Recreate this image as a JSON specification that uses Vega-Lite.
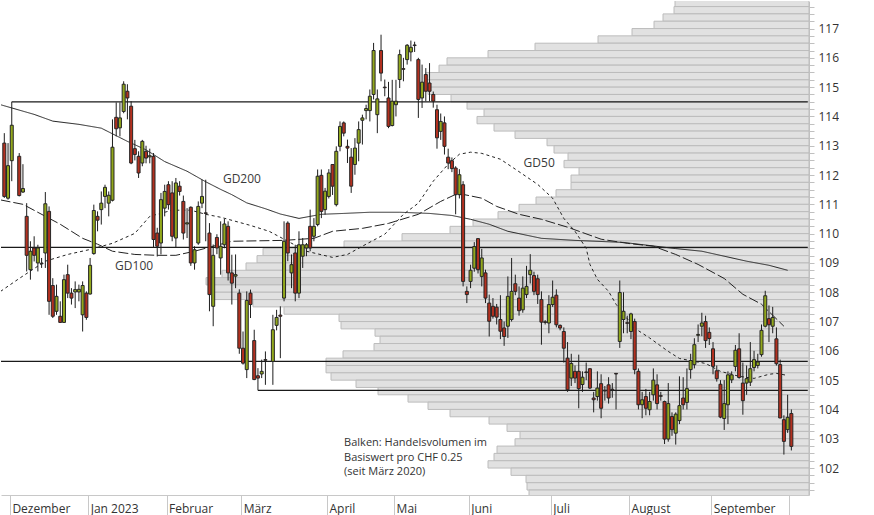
{
  "$schema": "https://vega.github.io/schema/vega-lite/v6.json",
  "width": 808,
  "height": 494,
  "padding": 0,
  "autosize": {"type": "pad"},
  "background": "white",
  "config": {
    "view": {"stroke": null},
    "font": "Open Sans",
    "scale": {"continuousPadding": 0},
    "axisX": {"title": null, "grid": false, "tickSize": 21, "tickColor": "#c8c8c8", "domainColor": "#c8c8c8", "labelAlign": "left", "labelBaseline": "middle", "labelOffset": 2, "labelPadding": -8, "labelFont": "Open Sans", "labelFontSize": 12, "labelColor": "#333333", "labelOverlap": false, "labelFlush": false, "labelBound": false},
    "axisY": {"title": null, "grid": false, "tickSize": 5, "tickColor": "#c0c0c0", "domainColor": "#c0c0c0", "labelPadding": 4, "labelFont": "Open Sans", "labelFontSize": 12, "labelColor": "#333333", "labelOverlap": false, "labelBound": false, "labelFlush": false}
  },
  "datasets": {
    "vol": [
      {"lo":117.75,"hi":118,"vol":134},{"lo":117.5,"hi":117.75,"vol":135},{"lo":117.25,"hi":117.5,"vol":146},{"lo":117,"hi":117.25,"vol":155},
      {"lo":116.75,"hi":117,"vol":177},{"lo":116.5,"hi":116.75,"vol":211},{"lo":116.25,"hi":116.5,"vol":274},{"lo":116,"hi":116.25,"vol":321},
      {"lo":115.75,"hi":116,"vol":362},{"lo":115.5,"hi":115.75,"vol":370},{"lo":115.25,"hi":115.5,"vol":383},{"lo":115,"hi":115.25,"vol":383},
      {"lo":114.75,"hi":115,"vol":381},{"lo":114.5,"hi":114.75,"vol":358},{"lo":114.25,"hi":114.5,"vol":342},{"lo":114,"hi":114.25,"vol":325},
      {"lo":113.75,"hi":114,"vol":332},{"lo":113.5,"hi":113.75,"vol":315},{"lo":113.25,"hi":113.5,"vol":294},{"lo":113,"hi":113.25,"vol":262},
      {"lo":112.75,"hi":113,"vol":255},{"lo":112.5,"hi":112.75,"vol":241},{"lo":112.25,"hi":112.5,"vol":245},{"lo":112,"hi":112.25,"vol":230},
      {"lo":111.75,"hi":112,"vol":238},{"lo":111.5,"hi":111.75,"vol":238},{"lo":111.25,"hi":111.5,"vol":253},{"lo":111,"hi":111.25,"vol":273},
      {"lo":110.75,"hi":111,"vol":290},{"lo":110.5,"hi":110.75,"vol":311},{"lo":110.25,"hi":110.5,"vol":336},{"lo":110,"hi":110.25,"vol":359},
      {"lo":109.75,"hi":110,"vol":407},{"lo":109.5,"hi":109.75,"vol":465},{"lo":109.25,"hi":109.5,"vol":546},{"lo":109,"hi":109.25,"vol":552},
      {"lo":108.75,"hi":109,"vol":563},{"lo":108.5,"hi":108.75,"vol":587},{"lo":108.25,"hi":108.5,"vol":603},{"lo":108,"hi":108.25,"vol":595},
      {"lo":107.75,"hi":108,"vol":595},{"lo":107.5,"hi":107.75,"vol":556},{"lo":107.25,"hi":107.5,"vol":525},{"lo":107,"hi":107.25,"vol":470},
      {"lo":106.75,"hi":107,"vol":468},{"lo":106.5,"hi":106.75,"vol":434},{"lo":106.25,"hi":106.5,"vol":429},{"lo":106,"hi":106.25,"vol":435},
      {"lo":105.75,"hi":106,"vol":466},{"lo":105.5,"hi":105.75,"vol":483},{"lo":105.25,"hi":105.5,"vol":483},{"lo":105,"hi":105.25,"vol":478},
      {"lo":104.75,"hi":105,"vol":453},{"lo":104.5,"hi":104.75,"vol":431},{"lo":104.25,"hi":104.5,"vol":401},{"lo":104,"hi":104.25,"vol":381},
      {"lo":103.75,"hi":104,"vol":359},{"lo":103.5,"hi":103.75,"vol":320},{"lo":103.25,"hi":103.5,"vol":302},{"lo":103,"hi":103.25,"vol":289},
      {"lo":102.75,"hi":103,"vol":294},{"lo":102.5,"hi":102.75,"vol":312},{"lo":102.25,"hi":102.5,"vol":315},{"lo":102,"hi":102.25,"vol":321},
      {"lo":101.75,"hi":102,"vol":298},{"lo":101.5,"hi":101.75,"vol":283},{"lo":101.25,"hi":101.5,"vol":282},{"lo":101,"hi":101.25,"vol":280}
    ],
    "lvl": [
      {"level":114.5,"from":2,"to":215.4},
      {"level":109.53,"from":-0.885,"to":215.4},
      {"level":105.64,"from":-0.885,"to":215.4},
      {"level":104.65,"from":68,"to":215.4}
    ],
    "ma": [
      {"ma":"GD200","i":-1,"v":114.4},{"ma":"GD200","i":8,"v":114.07},{"ma":"GD200","i":13,"v":113.84},{"ma":"GD200","i":20,"v":113.73},{"ma":"GD200","i":26,"v":113.6},{"ma":"GD200","i":33,"v":113.15},{"ma":"GD200","i":38,"v":112.86},{"ma":"GD200","i":43,"v":112.46},{"ma":"GD200","i":49,"v":112.13},{"ma":"GD200","i":54,"v":111.77},{"ma":"GD200","i":58,"v":111.51},{"ma":"GD200","i":61,"v":111.33},{"ma":"GD200","i":65,"v":111.05},{"ma":"GD200","i":70,"v":110.85},{"ma":"GD200","i":74,"v":110.67},{"ma":"GD200","i":79,"v":110.52},{"ma":"GD200","i":85,"v":110.66},{"ma":"GD200","i":91,"v":110.69},{"ma":"GD200","i":98,"v":110.73},{"ma":"GD200","i":106,"v":110.73},{"ma":"GD200","i":114,"v":110.69},{"ma":"GD200","i":120,"v":110.62},{"ma":"GD200","i":125,"v":110.49},{"ma":"GD200","i":130,"v":110.32},{"ma":"GD200","i":135,"v":110.08},{"ma":"GD200","i":144,"v":109.84},{"ma":"GD200","i":153,"v":109.77},{"ma":"GD200","i":166,"v":109.7},{"ma":"GD200","i":180,"v":109.49},{"ma":"GD200","i":187,"v":109.4},{"ma":"GD200","i":199,"v":109.06},{"ma":"GD200","i":205,"v":108.92},{"ma":"GD200","i":210,"v":108.75},
      {"ma":"GD100","i":-1,"v":111.15},{"ma":"GD100","i":5,"v":111.0},{"ma":"GD100","i":15,"v":110.32},{"ma":"GD100","i":21,"v":109.84},{"ma":"GD100","i":25,"v":109.64},{"ma":"GD100","i":29,"v":109.4},{"ma":"GD100","i":35,"v":109.29},{"ma":"GD100","i":41,"v":109.26},{"ma":"GD100","i":46,"v":109.26},{"ma":"GD100","i":51,"v":109.4},{"ma":"GD100","i":61,"v":109.74},{"ma":"GD100","i":75,"v":109.77},{"ma":"GD100","i":83,"v":109.84},{"ma":"GD100","i":88,"v":110.08},{"ma":"GD100","i":96,"v":110.18},{"ma":"GD100","i":103,"v":110.35},{"ma":"GD100","i":111,"v":110.66},{"ma":"GD100","i":117,"v":111.1},{"ma":"GD100","i":121,"v":111.34},{"ma":"GD100","i":123,"v":111.34},{"ma":"GD100","i":128,"v":111.21},{"ma":"GD100","i":132,"v":110.93},{"ma":"GD100","i":138,"v":110.66},{"ma":"GD100","i":144,"v":110.49},{"ma":"GD100","i":151,"v":110.22},{"ma":"GD100","i":160,"v":109.81},{"ma":"GD100","i":167,"v":109.67},{"ma":"GD100","i":174,"v":109.57},{"ma":"GD100","i":180,"v":109.29},{"ma":"GD100","i":186,"v":108.95},{"ma":"GD100","i":193,"v":108.47},{"ma":"GD100","i":198,"v":107.93},{"ma":"GD100","i":203,"v":107.59},{"ma":"GD100","i":209,"v":106.84},
      {"ma":"GD50","i":-1,"v":108.03},{"ma":"GD50","i":4,"v":108.47},{"ma":"GD50","i":11,"v":109.06},{"ma":"GD50","i":17,"v":109.29},{"ma":"GD50","i":23,"v":109.46},{"ma":"GD50","i":29,"v":109.67},{"ma":"GD50","i":35,"v":110.01},{"ma":"GD50","i":39,"v":110.59},{"ma":"GD50","i":45,"v":110.8},{"ma":"GD50","i":50,"v":110.8},{"ma":"GD50","i":54,"v":110.66},{"ma":"GD50","i":58,"v":110.56},{"ma":"GD50","i":66,"v":110.28},{"ma":"GD50","i":71,"v":110.08},{"ma":"GD50","i":75,"v":109.81},{"ma":"GD50","i":81,"v":109.4},{"ma":"GD50","i":88,"v":109.19},{"ma":"GD50","i":92,"v":109.29},{"ma":"GD50","i":97,"v":109.64},{"ma":"GD50","i":102,"v":109.98},{"ma":"GD50","i":107,"v":110.66},{"ma":"GD50","i":111,"v":111.04},{"ma":"GD50","i":115,"v":111.79},{"ma":"GD50","i":119,"v":112.37},{"ma":"GD50","i":122,"v":112.71},{"ma":"GD50","i":125,"v":112.78},{"ma":"GD50","i":128,"v":112.74},{"ma":"GD50","i":133,"v":112.54},{"ma":"GD50","i":137,"v":112.2},{"ma":"GD50","i":143,"v":111.68},{"ma":"GD50","i":147,"v":111.21},{"ma":"GD50","i":150,"v":110.52},{"ma":"GD50","i":153,"v":110.08},{"ma":"GD50","i":156,"v":109.5},{"ma":"GD50","i":157,"v":108.95},{"ma":"GD50","i":159,"v":108.44},{"ma":"GD50","i":162,"v":108.03},{"ma":"GD50","i":164,"v":107.59},{"ma":"GD50","i":169,"v":106.77},{"ma":"GD50","i":173,"v":106.44},{"ma":"GD50","i":178,"v":105.98},{"ma":"GD50","i":181,"v":105.74},{"ma":"GD50","i":185,"v":105.64},{"ma":"GD50","i":188,"v":105.57},{"ma":"GD50","i":192,"v":105.3},{"ma":"GD50","i":197,"v":105.13},{"ma":"GD50","i":201,"v":105.06},{"ma":"GD50","i":205,"v":105.2},{"ma":"GD50","i":207,"v":105.23},{"ma":"GD50","i":210,"v":105.16}
    ],
    "candles": [
      {"i":0,"o":113.09,"h":113.43,"l":111.22,"c":111.27},{"i":1,"o":111.21,"h":113.09,"l":111.16,"c":112.32},{"i":2,"o":112.49,"h":114.5,"l":111.79,"c":113.7},
      {"i":4,"o":112.64,"h":112.75,"l":111.27,"c":111.3},{"i":5,"o":111.42,"h":112.37,"l":111.39,"c":111.54},{"i":6,"o":110.59,"h":111.04,"l":108.71,"c":109.26},
      {"i":7,"o":108.77,"h":109.74,"l":108.43,"c":109.4},{"i":8,"o":109.51,"h":109.91,"l":109.05,"c":109.26},{"i":9,"o":109.0,"h":109.62,"l":108.71,"c":109.51},
      {"i":10,"o":108.99,"h":109.17,"l":108.83,"c":108.97},{"i":11,"o":109.34,"h":111.42,"l":108.83,"c":111.02},{"i":12,"o":110.76,"h":110.93,"l":107.23,"c":107.69},
      {"i":13,"o":108.23,"h":108.48,"l":107.12,"c":107.18},{"i":14,"o":107.35,"h":108.26,"l":107.23,"c":107.86},{"i":15,"o":107.18,"h":107.69,"l":106.95,"c":106.97},
      {"i":16,"o":106.97,"h":108.6,"l":106.95,"c":108.43},{"i":17,"o":108.6,"h":108.94,"l":107.8,"c":107.97},{"i":18,"o":107.97,"h":108.14,"l":107.58,"c":107.8},
      {"i":19,"o":108.01,"h":108.37,"l":107.46,"c":108.09},{"i":20,"o":108.01,"h":108.26,"l":107.69,"c":108.1},{"i":21,"o":107.23,"h":108.37,"l":106.66,"c":108.23},
      {"i":22,"o":107.97,"h":108.03,"l":107.06,"c":107.14},{"i":23,"o":107.94,"h":109.17,"l":107.92,"c":108.92},{"i":24,"o":109.32,"h":110.99,"l":109.28,"c":110.79},
      {"i":25,"o":110.59,"h":110.76,"l":110.08,"c":110.46},{"i":26,"o":110.82,"h":111.44,"l":110.31,"c":111.04},{"i":27,"o":111.27,"h":111.67,"l":110.87,"c":111.58},
      {"i":28,"o":111.04,"h":111.44,"l":110.59,"c":111.31},{"i":29,"o":111.14,"h":113.9,"l":111.1,"c":112.95},{"i":30,"o":113.97,"h":114.48,"l":113.32,"c":113.58},
      {"i":31,"o":113.61,"h":114.48,"l":113.32,"c":113.95},{"i":32,"o":114.17,"h":115.2,"l":114.11,"c":115.1},{"i":33,"o":114.86,"h":115.1,"l":113.9,"c":114.63},
      {"i":34,"o":114.35,"h":114.52,"l":112.37,"c":112.41},{"i":35,"o":112.9,"h":113.2,"l":112.5,"c":112.7},{"i":36,"o":112.64,"h":112.81,"l":111.9,"c":112.07},
      {"i":37,"o":112.41,"h":113.2,"l":112.3,"c":113.15},{"i":38,"o":112.81,"h":113.0,"l":112.4,"c":112.58},{"i":39,"o":112.62,"h":112.9,"l":112.4,"c":112.66},
      {"i":40,"o":112.64,"h":112.75,"l":109.51,"c":109.8},{"i":41,"o":110.02,"h":110.2,"l":109.22,"c":109.57},{"i":42,"o":109.68,"h":111.39,"l":109.29,"c":111.16},
      {"i":43,"o":110.87,"h":111.67,"l":110.59,"c":111.44},{"i":44,"o":111.67,"h":111.79,"l":110.82,"c":110.99},{"i":45,"o":111.39,"h":111.79,"l":109.74,"c":109.91},
      {"i":46,"o":109.85,"h":111.9,"l":109.51,"c":111.73},{"i":47,"o":111.62,"h":111.79,"l":111.3,"c":111.44},{"i":48,"o":111.1,"h":111.3,"l":109.8,"c":110.02},
      {"i":49,"o":110.33,"h":110.87,"l":109.85,"c":110.37},{"i":50,"o":110.9,"h":110.93,"l":108.9,"c":109.0},{"i":51,"o":109.0,"h":109.57,"l":108.77,"c":109.45},
      {"i":52,"o":109.68,"h":111.1,"l":109.62,"c":110.93},{"i":53,"o":111.04,"h":111.84,"l":110.87,"c":111.27},{"i":54,"o":110.71,"h":111.84,"l":109.74,"c":110.69},
      {"i":55,"o":110.02,"h":110.36,"l":107.35,"c":107.92},{"i":56,"o":107.52,"h":109.63,"l":106.84,"c":109.26},{"i":57,"o":109.87,"h":109.98,"l":109.3,"c":109.51},
      {"i":58,"o":109.17,"h":110.42,"l":108.6,"c":109.57},{"i":59,"o":109.62,"h":110.5,"l":109.5,"c":110.33},{"i":60,"o":110.25,"h":110.42,"l":108.4,"c":108.66},
      {"i":61,"o":108.66,"h":109.28,"l":107.58,"c":108.31},{"i":62,"o":108.55,"h":109.29,"l":108.14,"c":108.6},{"i":63,"o":107.97,"h":108.1,"l":105.9,"c":106.09},
      {"i":64,"o":106.09,"h":106.66,"l":105.53,"c":105.58},{"i":65,"o":105.36,"h":108.03,"l":105.07,"c":107.72},{"i":66,"o":107.97,"h":108.09,"l":107.12,"c":107.58},
      {"i":67,"o":106.35,"h":106.72,"l":105.0,"c":105.02},{"i":68,"o":105.15,"h":105.41,"l":104.65,"c":105.07},{"i":69,"o":105.21,"h":105.7,"l":105.07,"c":105.3},
      {"i":70,"o":105.7,"h":105.98,"l":104.84,"c":105.68},{"i":72,"o":105.64,"h":107.23,"l":104.84,"c":106.72},{"i":73,"o":106.87,"h":107.4,"l":106.7,"c":107.14},
      {"i":74,"o":107.22,"h":107.52,"l":105.75,"c":107.18},{"i":75,"o":107.8,"h":110.42,"l":107.69,"c":109.74},{"i":76,"o":110.36,"h":110.42,"l":109.06,"c":109.34},
      {"i":77,"o":108.66,"h":109.29,"l":108.14,"c":108.94},{"i":78,"o":109.34,"h":109.62,"l":107.69,"c":107.97},{"i":79,"o":107.97,"h":110.08,"l":107.8,"c":109.62},
      {"i":80,"o":109.23,"h":109.85,"l":108.83,"c":109.62},{"i":81,"o":109.51,"h":109.68,"l":109.23,"c":109.62},{"i":82,"o":110.25,"h":110.82,"l":109.4,"c":109.51},
      {"i":83,"o":109.91,"h":110.53,"l":109.74,"c":110.25},{"i":84,"o":110.31,"h":112.19,"l":110.25,"c":111.96},{"i":85,"o":111.99,"h":112.19,"l":110.53,"c":110.76},
      {"i":86,"o":110.82,"h":111.56,"l":110.65,"c":111.45},{"i":87,"o":111.27,"h":112.2,"l":111.2,"c":112.07},{"i":88,"o":112.36,"h":112.36,"l":111.32,"c":111.62},
      {"i":89,"o":110.99,"h":112.98,"l":110.93,"c":112.81},{"i":90,"o":112.98,"h":113.83,"l":112.81,"c":113.66},{"i":91,"o":113.78,"h":113.83,"l":113.32,"c":113.43},
      {"i":92,"o":112.98,"h":113.21,"l":112.41,"c":112.92},{"i":93,"o":112.61,"h":112.92,"l":111.39,"c":111.62},{"i":94,"o":112.36,"h":113.26,"l":112.01,"c":112.92},
      {"i":95,"o":113.09,"h":113.83,"l":112.47,"c":113.55},{"i":96,"o":113.87,"h":114.06,"l":113.04,"c":113.95},{"i":97,"o":114.2,"h":114.4,"l":113.9,"c":114.27},
      {"i":98,"o":114.2,"h":114.92,"l":113.83,"c":114.69},{"i":99,"o":114.75,"h":116.51,"l":114.58,"c":116.25},{"i":100,"o":114.06,"h":114.92,"l":113.43,"c":114.6},
      {"i":101,"o":116.25,"h":116.79,"l":115.2,"c":115.48},{"i":102,"o":115.0,"h":115.26,"l":114.69,"c":114.98},{"i":103,"o":114.63,"h":115.18,"l":113.6,"c":113.66},
      {"i":104,"o":113.69,"h":115.25,"l":113.66,"c":114.52},{"i":105,"o":114.4,"h":115.25,"l":114.0,"c":114.52},{"i":106,"o":115.26,"h":116.28,"l":114.97,"c":116.11},
      {"i":107,"o":115.63,"h":116.0,"l":115.2,"c":115.61},{"i":108,"o":115.94,"h":116.47,"l":115.77,"c":116.43},{"i":109,"o":116.2,"h":116.59,"l":115.88,"c":116.36},
      {"i":110,"o":116.44,"h":116.55,"l":116.2,"c":116.42},{"i":111,"o":115.94,"h":116.0,"l":113.95,"c":114.58},{"i":112,"o":114.63,"h":115.77,"l":114.29,"c":115.17},
      {"i":113,"o":115.43,"h":115.65,"l":114.52,"c":114.86},{"i":114,"o":115.14,"h":115.82,"l":114.52,"c":114.86},{"i":115,"o":114.75,"h":114.85,"l":114.3,"c":114.52},
      {"i":116,"o":114.23,"h":114.4,"l":112.9,"c":113.27},{"i":117,"o":113.49,"h":114.1,"l":113.2,"c":113.83},{"i":118,"o":113.78,"h":114.0,"l":112.7,"c":112.98},
      {"i":119,"o":112.61,"h":112.9,"l":112.2,"c":112.41},{"i":120,"o":112.49,"h":112.6,"l":112.1,"c":112.22},{"i":121,"o":112.24,"h":112.3,"l":110.66,"c":111.33},
      {"i":122,"o":111.33,"h":112.2,"l":111.2,"c":112.01},{"i":123,"o":111.67,"h":111.79,"l":108.2,"c":108.37},{"i":124,"o":108.03,"h":108.2,"l":107.63,"c":107.92},
      {"i":125,"o":108.37,"h":108.94,"l":108.14,"c":108.75},{"i":126,"o":108.82,"h":109.71,"l":108.7,"c":109.56},{"i":127,"o":109.83,"h":109.85,"l":108.64,"c":108.77},
      {"i":128,"o":108.54,"h":109.48,"l":108.2,"c":109.17},{"i":129,"o":108.66,"h":108.77,"l":107.63,"c":107.8},{"i":130,"o":107.63,"h":107.92,"l":106.49,"c":107.01},
      {"i":131,"o":107.52,"h":107.8,"l":107.1,"c":107.18},{"i":132,"o":107.49,"h":107.6,"l":106.9,"c":107.15},{"i":133,"o":107.07,"h":107.9,"l":106.4,"c":106.67},
      {"i":134,"o":106.78,"h":107.0,"l":106.17,"c":106.49},{"i":135,"o":106.84,"h":108.54,"l":106.44,"c":107.86},{"i":136,"o":107.07,"h":109.17,"l":107.0,"c":108.03},
      {"i":137,"o":108.29,"h":108.6,"l":107.9,"c":108.03},{"i":138,"o":107.8,"h":108.2,"l":107.2,"c":107.37},{"i":139,"o":107.4,"h":108.54,"l":107.3,"c":108.14},
      {"i":140,"o":107.92,"h":108.9,"l":107.8,"c":108.2},{"i":141,"o":108.6,"h":109.3,"l":108.3,"c":108.75},{"i":142,"o":108.57,"h":108.7,"l":107.9,"c":108.03},
      {"i":143,"o":108.46,"h":108.6,"l":107.6,"c":107.92},{"i":144,"o":107.75,"h":108.03,"l":106.21,"c":106.98},{"i":145,"o":106.99,"h":107.05,"l":106.9,"c":106.97},
      {"i":146,"o":106.95,"h":107.9,"l":106.6,"c":107.58},{"i":147,"o":107.58,"h":108.4,"l":107.5,"c":107.83},{"i":148,"o":107.9,"h":108.1,"l":106.8,"c":106.89},
      {"i":149,"o":106.87,"h":106.9,"l":106.7,"c":106.78},{"i":150,"o":106.66,"h":106.8,"l":105.6,"c":106.09},{"i":151,"o":105.75,"h":106.3,"l":104.6,"c":104.67},
      {"i":152,"o":105.07,"h":105.9,"l":104.8,"c":105.57},{"i":153,"o":105.3,"h":105.5,"l":104.9,"c":105.07},{"i":154,"o":105.3,"h":105.87,"l":104.04,"c":104.71},
      {"i":155,"o":104.85,"h":105.3,"l":104.6,"c":105.1},{"i":156,"o":105.28,"h":105.6,"l":105.0,"c":105.26},{"i":157,"o":105.39,"h":105.4,"l":104.7,"c":104.73},
      {"i":158,"o":104.39,"h":104.6,"l":103.9,"c":104.33},{"i":159,"o":104.44,"h":105.3,"l":104.3,"c":104.73},{"i":160,"o":104.88,"h":105.2,"l":103.7,"c":104.04},
      {"i":161,"o":104.65,"h":104.8,"l":104.3,"c":104.63},{"i":162,"o":104.84,"h":105.1,"l":104.2,"c":104.39},{"i":163,"o":104.69,"h":104.9,"l":104.4,"c":104.67},
      {"i":164,"o":105.23,"h":105.23,"l":104.0,"c":105.21},{"i":165,"o":106.32,"h":108.4,"l":106.1,"c":107.99},{"i":166,"o":107.07,"h":108.0,"l":106.6,"c":107.35},
      {"i":167,"o":106.96,"h":107.2,"l":106.6,"c":106.94},{"i":168,"o":106.66,"h":107.3,"l":106.4,"c":107.26},{"i":169,"o":107.0,"h":107.1,"l":105.2,"c":105.36},
      {"i":170,"o":105.3,"h":105.4,"l":104.0,"c":104.16},{"i":171,"o":104.16,"h":104.6,"l":103.7,"c":104.33},{"i":172,"o":104.44,"h":104.7,"l":103.8,"c":104.04},
      {"i":173,"o":103.99,"h":104.6,"l":103.8,"c":104.27},{"i":174,"o":104.5,"h":105.4,"l":104.3,"c":105.0},{"i":175,"o":104.84,"h":105.2,"l":104.0,"c":104.2},
      {"i":176,"o":104.47,"h":104.6,"l":104.3,"c":104.45},{"i":177,"o":104.27,"h":104.3,"l":102.82,"c":102.99},{"i":178,"o":102.99,"h":104.9,"l":102.9,"c":104.2},
      {"i":179,"o":103.76,"h":103.9,"l":103.1,"c":103.31},{"i":180,"o":103.19,"h":103.9,"l":102.8,"c":103.84},{"i":181,"o":103.62,"h":105.13,"l":103.5,"c":104.13},
      {"i":182,"o":104.39,"h":105.1,"l":104.0,"c":104.16},{"i":183,"o":104.24,"h":105.4,"l":104.0,"c":104.71},{"i":184,"o":105.36,"h":105.9,"l":105.05,"c":105.67},
      {"i":185,"o":105.53,"h":106.43,"l":105.4,"c":106.21},{"i":186,"o":106.53,"h":106.9,"l":106.3,"c":106.56},{"i":187,"o":106.84,"h":107.3,"l":106.5,"c":106.95},
      {"i":188,"o":107.0,"h":107.2,"l":106.1,"c":106.35},{"i":189,"o":106.63,"h":106.8,"l":106.2,"c":106.42},{"i":190,"o":106.07,"h":106.3,"l":105.2,"c":105.47},
      {"i":191,"o":105.32,"h":105.5,"l":104.95,"c":105.05},{"i":192,"o":104.86,"h":105.0,"l":103.7,"c":103.74},{"i":193,"o":103.69,"h":105.0,"l":103.3,"c":104.2},
      {"i":194,"o":104.16,"h":105.3,"l":103.5,"c":105.18},{"i":195,"o":105.01,"h":105.3,"l":104.9,"c":105.18},{"i":196,"o":105.47,"h":106.2,"l":105.3,"c":106.02},
      {"i":197,"o":106.07,"h":106.6,"l":105.05,"c":105.09},{"i":198,"o":104.9,"h":105.6,"l":103.82,"c":104.3},{"i":199,"o":104.9,"h":105.5,"l":104.5,"c":105.05},
      {"i":200,"o":104.93,"h":106.3,"l":104.8,"c":105.39},{"i":201,"o":105.43,"h":106.0,"l":105.3,"c":105.7},{"i":202,"o":105.5,"h":105.9,"l":105.4,"c":105.62},
      {"i":203,"o":105.87,"h":106.9,"l":105.8,"c":106.7},{"i":204,"o":106.84,"h":108.05,"l":106.8,"c":107.88},{"i":205,"o":107.1,"h":107.55,"l":106.3,"c":106.89},
      {"i":206,"o":106.84,"h":107.5,"l":106.6,"c":107.14},{"i":207,"o":106.41,"h":106.8,"l":105.5,"c":105.56},{"i":208,"o":105.53,"h":105.7,"l":103.7,"c":103.71},
      {"i":209,"o":103.65,"h":103.8,"l":102.46,"c":102.91},{"i":210,"o":103.31,"h":104.5,"l":103.2,"c":103.73},{"i":211,"o":103.86,"h":104.0,"l":102.6,"c":102.74}
    ]
  },
  "layer": [
    {
      "data": {"name": "vol"},
      "transform": [{"joinaggregate": [{"op": "max", "field": "vol", "as": "vmax"}]}],
      "mark": {"type": "bar", "clip": true, "stroke": "#bcbcbc", "strokeWidth": 1},
      "encoding": {
        "x": {"field": "vol", "type": "quantitative", "scale": {"domain": [0, 808], "reverse": true, "nice": false, "zero": false, "padding": 0}, "axis": null},
        "x2": {"datum": 0},
        "y": {
          "field": "lo", "type": "quantitative", "scale": {"domain": [101.08, 117.94], "nice": false, "zero": false, "padding": 0},
          "axis": {"orient": "right", "values": [101.25,101.5,101.75,102,102.25,102.5,102.75,103,103.25,103.5,103.75,104,104.25,104.5,104.75,105,105.25,105.5,105.75,106,106.25,106.5,106.75,107,107.25,107.5,107.75,108,108.25,108.5,108.75,109,109.25,109.5,109.75,110,110.25,110.5,110.75,111,111.25,111.5,111.75,112,112.25,112.5,112.75,113,113.25,113.5,113.75,114,114.25,114.5,114.75,115,115.25,115.5,115.75,116,116.25,116.5,116.75,117,117.25,117.5,117.75], "labelExpr": "datum.value % 1 == 0 ? format(datum.value, 'd') : ''"}
        },
        "y2": {"field": "hi"},
        "fill": {"condition": {"test": "datum.vol == datum.vmax", "value": "#d2d2d2"}, "value": "#e1e1e1"}
      }
    },
    {
      "layer": [
        {
          "data": {"name": "lvl"},
          "mark": {"type": "rule", "color": "#1a1a1a", "strokeWidth": 1.2},
          "encoding": {
            "x": {"field": "from", "type": "quantitative", "scale": {"domain": [-0.885, 215.73], "nice": false, "zero": false, "padding": 0},
              "axis": {"values": [1.5, 22.5, 43.5, 63.5, 86.5, 104.5, 124.5, 146.5, 167.5, 189.5, 210.5], "labelExpr": "datum.value == 1.5 ? 'Dezember' : datum.value == 22.5 ? 'Jan 2023' : datum.value == 43.5 ? 'Februar' : datum.value == 63.5 ? 'März' : datum.value == 86.5 ? 'April' : datum.value == 104.5 ? 'Mai' : datum.value == 124.5 ? 'Juni' : datum.value == 146.5 ? 'Juli' : datum.value == 167.5 ? 'August' : datum.value == 189.5 ? 'September' : ''"}},
            "x2": {"field": "to"},
            "y": {"field": "level", "type": "quantitative", "scale": {"domain": [101.08, 117.94], "nice": false, "zero": false, "padding": 0},
              "axis": {"orient": "right", "values": [101.25,101.5,101.75,102,102.25,102.5,102.75,103,103.25,103.5,103.75,104,104.25,104.5,104.75,105,105.25,105.5,105.75,106,106.25,106.5,106.75,107,107.25,107.5,107.75,108,108.25,108.5,108.75,109,109.25,109.5,109.75,110,110.25,110.5,110.75,111,111.25,111.5,111.75,112,112.25,112.5,112.75,113,113.25,113.5,113.75,114,114.25,114.5,114.75,115,115.25,115.5,115.75,116,116.25,116.5,116.75,117,117.25,117.5,117.75], "labelExpr": "datum.value % 1 == 0 ? format(datum.value, 'd') : ''"}}
          }
        },
        {
          "data": {"name": "ma"},
          "mark": {"type": "line", "clip": true, "color": "#222222", "strokeWidth": 1},
          "encoding": {
            "x": {"field": "i", "type": "quantitative", "scale": {"domain": [-0.885, 215.73], "nice": false, "zero": false, "padding": 0},
              "axis": {"values": [1.5, 22.5, 43.5, 63.5, 86.5, 104.5, 124.5, 146.5, 167.5, 189.5, 210.5], "labelExpr": "datum.value == 1.5 ? 'Dezember' : datum.value == 22.5 ? 'Jan 2023' : datum.value == 43.5 ? 'Februar' : datum.value == 63.5 ? 'März' : datum.value == 86.5 ? 'April' : datum.value == 104.5 ? 'Mai' : datum.value == 124.5 ? 'Juni' : datum.value == 146.5 ? 'Juli' : datum.value == 167.5 ? 'August' : datum.value == 189.5 ? 'September' : ''"}},
            "y": {"field": "v", "type": "quantitative", "scale": {"domain": [101.08, 117.94], "nice": false, "zero": false, "padding": 0},
              "axis": {"orient": "right", "values": [101.25,101.5,101.75,102,102.25,102.5,102.75,103,103.25,103.5,103.75,104,104.25,104.5,104.75,105,105.25,105.5,105.75,106,106.25,106.5,106.75,107,107.25,107.5,107.75,108,108.25,108.5,108.75,109,109.25,109.5,109.75,110,110.25,110.5,110.75,111,111.25,111.5,111.75,112,112.25,112.5,112.75,113,113.25,113.5,113.75,114,114.25,114.5,114.75,115,115.25,115.5,115.75,116,116.25,116.5,116.75,117,117.25,117.5,117.75], "labelExpr": "datum.value % 1 == 0 ? format(datum.value, 'd') : ''"}},
            "detail": {"field": "ma"},
            "strokeDash": {"field": "ma", "type": "nominal", "scale": {"domain": ["GD50", "GD100", "GD200"], "range": [[3, 3], [10, 3], [1, 0]]}, "legend": null}
          }
        },
        {
          "data": {"name": "candles"},
          "mark": {"type": "rule", "color": "#1e1e1e", "strokeWidth": 1},
          "encoding": {
            "x": {"field": "i", "type": "quantitative", "scale": {"domain": [-0.885, 215.73], "nice": false, "zero": false, "padding": 0},
              "axis": {"values": [1.5, 22.5, 43.5, 63.5, 86.5, 104.5, 124.5, 146.5, 167.5, 189.5, 210.5], "labelExpr": "datum.value == 1.5 ? 'Dezember' : datum.value == 22.5 ? 'Jan 2023' : datum.value == 43.5 ? 'Februar' : datum.value == 63.5 ? 'März' : datum.value == 86.5 ? 'April' : datum.value == 104.5 ? 'Mai' : datum.value == 124.5 ? 'Juni' : datum.value == 146.5 ? 'Juli' : datum.value == 167.5 ? 'August' : datum.value == 189.5 ? 'September' : ''"}},
            "y": {"field": "l", "type": "quantitative", "scale": {"domain": [101.08, 117.94], "nice": false, "zero": false, "padding": 0},
              "axis": {"orient": "right", "values": [101.25,101.5,101.75,102,102.25,102.5,102.75,103,103.25,103.5,103.75,104,104.25,104.5,104.75,105,105.25,105.5,105.75,106,106.25,106.5,106.75,107,107.25,107.5,107.75,108,108.25,108.5,108.75,109,109.25,109.5,109.75,110,110.25,110.5,110.75,111,111.25,111.5,111.75,112,112.25,112.5,112.75,113,113.25,113.5,113.75,114,114.25,114.5,114.75,115,115.25,115.5,115.75,116,116.25,116.5,116.75,117,117.25,117.5,117.75], "labelExpr": "datum.value % 1 == 0 ? format(datum.value, 'd') : ''"}},
            "y2": {"field": "h"}
          }
        },
        {
          "data": {"name": "candles"},
          "mark": {"type": "bar", "size": 3, "stroke": "#262626", "strokeWidth": 1},
          "encoding": {
            "x": {"field": "i", "type": "quantitative", "scale": {"domain": [-0.885, 215.73], "nice": false, "zero": false, "padding": 0},
              "axis": {"values": [1.5, 22.5, 43.5, 63.5, 86.5, 104.5, 124.5, 146.5, 167.5, 189.5, 210.5], "labelExpr": "datum.value == 1.5 ? 'Dezember' : datum.value == 22.5 ? 'Jan 2023' : datum.value == 43.5 ? 'Februar' : datum.value == 63.5 ? 'März' : datum.value == 86.5 ? 'April' : datum.value == 104.5 ? 'Mai' : datum.value == 124.5 ? 'Juni' : datum.value == 146.5 ? 'Juli' : datum.value == 167.5 ? 'August' : datum.value == 189.5 ? 'September' : ''"}},
            "y": {"field": "o", "type": "quantitative", "scale": {"domain": [101.08, 117.94], "nice": false, "zero": false, "padding": 0},
              "axis": {"orient": "right", "values": [101.25,101.5,101.75,102,102.25,102.5,102.75,103,103.25,103.5,103.75,104,104.25,104.5,104.75,105,105.25,105.5,105.75,106,106.25,106.5,106.75,107,107.25,107.5,107.75,108,108.25,108.5,108.75,109,109.25,109.5,109.75,110,110.25,110.5,110.75,111,111.25,111.5,111.75,112,112.25,112.5,112.75,113,113.25,113.5,113.75,114,114.25,114.5,114.75,115,115.25,115.5,115.75,116,116.25,116.5,116.75,117,117.25,117.5,117.75], "labelExpr": "datum.value % 1 == 0 ? format(datum.value, 'd') : ''"}},
            "y2": {"field": "c"},
            "fill": {"condition": {"test": "datum.c >= datum.o", "value": "#92a81c"}, "value": "#b3301f"}
          }
        },
        {
          "data": {"values": [
            {"t": "GD200", "i": 63.7, "v": 111.86},
            {"t": "GD100", "i": 34.8, "v": 108.88},
            {"t": "GD50", "i": 143.4, "v": 112.4}
          ]},
          "mark": {"type": "text", "font": "Open Sans", "fontSize": 12, "color": "#3a3a3a", "align": "center", "baseline": "middle"},
          "encoding": {
            "x": {"field": "i", "type": "quantitative", "scale": {"domain": [-0.885, 215.73], "nice": false, "zero": false, "padding": 0},
              "axis": {"values": [1.5, 22.5, 43.5, 63.5, 86.5, 104.5, 124.5, 146.5, 167.5, 189.5, 210.5], "labelExpr": "datum.value == 1.5 ? 'Dezember' : datum.value == 22.5 ? 'Jan 2023' : datum.value == 43.5 ? 'Februar' : datum.value == 63.5 ? 'März' : datum.value == 86.5 ? 'April' : datum.value == 104.5 ? 'Mai' : datum.value == 124.5 ? 'Juni' : datum.value == 146.5 ? 'Juli' : datum.value == 167.5 ? 'August' : datum.value == 189.5 ? 'September' : ''"}},
            "y": {"field": "v", "type": "quantitative", "scale": {"domain": [101.08, 117.94], "nice": false, "zero": false, "padding": 0},
              "axis": {"orient": "right", "values": [101.25,101.5,101.75,102,102.25,102.5,102.75,103,103.25,103.5,103.75,104,104.25,104.5,104.75,105,105.25,105.5,105.75,106,106.25,106.5,106.75,107,107.25,107.5,107.75,108,108.25,108.5,108.75,109,109.25,109.5,109.75,110,110.25,110.5,110.75,111,111.25,111.5,111.75,112,112.25,112.5,112.75,113,113.25,113.5,113.75,114,114.25,114.5,114.75,115,115.25,115.5,115.75,116,116.25,116.5,116.75,117,117.25,117.5,117.75], "labelExpr": "datum.value % 1 == 0 ? format(datum.value, 'd') : ''"}},
            "text": {"field": "t"}
          }
        },
        {
          "data": {"values": [{"t": "Balken: Handelsvolumen im\nBasiswert pro CHF 0.25\n(seit März 2020)", "i": 91.1, "v": 103.05}]},
          "mark": {"type": "text", "font": "Open Sans", "fontSize": 11, "color": "#333333", "align": "left", "baseline": "top", "lineBreak": "\n", "lineHeight": 14.5},
          "encoding": {
            "x": {"field": "i", "type": "quantitative", "scale": {"domain": [-0.885, 215.73], "nice": false, "zero": false, "padding": 0},
              "axis": {"values": [1.5, 22.5, 43.5, 63.5, 86.5, 104.5, 124.5, 146.5, 167.5, 189.5, 210.5], "labelExpr": "datum.value == 1.5 ? 'Dezember' : datum.value == 22.5 ? 'Jan 2023' : datum.value == 43.5 ? 'Februar' : datum.value == 63.5 ? 'März' : datum.value == 86.5 ? 'April' : datum.value == 104.5 ? 'Mai' : datum.value == 124.5 ? 'Juni' : datum.value == 146.5 ? 'Juli' : datum.value == 167.5 ? 'August' : datum.value == 189.5 ? 'September' : ''"}},
            "y": {"field": "v", "type": "quantitative", "scale": {"domain": [101.08, 117.94], "nice": false, "zero": false, "padding": 0},
              "axis": {"orient": "right", "values": [101.25,101.5,101.75,102,102.25,102.5,102.75,103,103.25,103.5,103.75,104,104.25,104.5,104.75,105,105.25,105.5,105.75,106,106.25,106.5,106.75,107,107.25,107.5,107.75,108,108.25,108.5,108.75,109,109.25,109.5,109.75,110,110.25,110.5,110.75,111,111.25,111.5,111.75,112,112.25,112.5,112.75,113,113.25,113.5,113.75,114,114.25,114.5,114.75,115,115.25,115.5,115.75,116,116.25,116.5,116.75,117,117.25,117.5,117.75], "labelExpr": "datum.value % 1 == 0 ? format(datum.value, 'd') : ''"}},
            "text": {"field": "t"}
          }
        }
      ]
    }
  ],
  "resolve": {"scale": {"x": "independent"}}
}
